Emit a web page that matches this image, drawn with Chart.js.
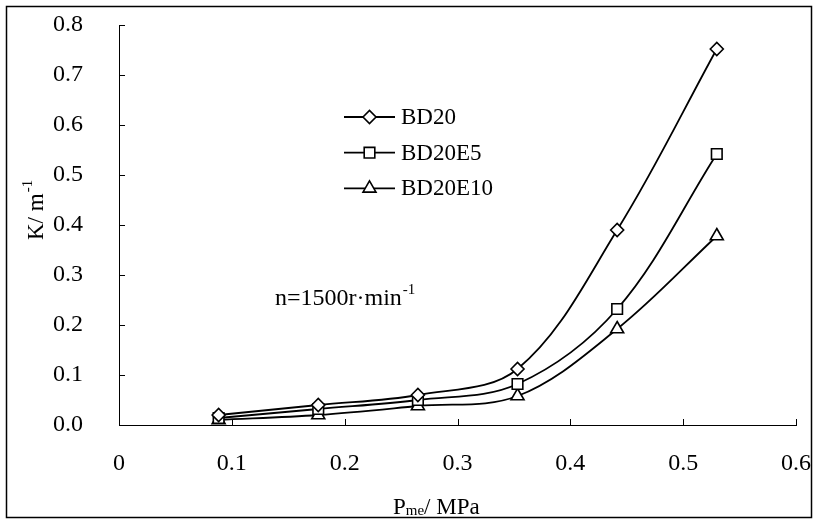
<!DOCTYPE html>
<html>
<head>
<meta charset="utf-8">
<script src="https://cdn.jsdelivr.net/npm/chart.js@4.4.0/dist/chart.umd.min.js"></script>
<style>
  html, body { margin: 0; padding: 0; background: #fff; }
  #wrap { width: 814px; height: 519px; }
</style>
</head>
<body>
<div id="wrap"><canvas id="c" width="814" height="519"></canvas></div>
<script>
// Brake mean effective pressure (MPa) at each measured load
const pressure = [0.0883, 0.1766, 0.2649, 0.3532, 0.4415, 0.5298];
// Smoke opacity coefficient K (1/m) for each fuel
const kBD20    = [0.020, 0.040, 0.060, 0.112, 0.390, 0.752];
const kBD20E5  = [0.014, 0.032, 0.050, 0.082, 0.232, 0.542];
const kBD20E10 = [0.010, 0.020, 0.038, 0.058, 0.192, 0.378];
const fuelNames = ['BD20', 'BD20E5', 'BD20E10'];
const markerStyles = ['rectRot', 'rect', 'triangle'];
const markerRadii = [6.5, 7.5, 7.5];
const xTickValues = [0, 0.1, 0.2, 0.3, 0.4, 0.5, 0.6];
const yTickValues = [0, 0.1, 0.2, 0.3, 0.4, 0.5, 0.6, 0.7, 0.8];

const SERIF = '"Liberation Serif", "Times New Roman", serif';
const seriesValues = [kBD20, kBD20E5, kBD20E10];
// plot box inside the 814x519 canvas
const PLOT = { left: 119, top: 25, right: 796, bottom: 425 };

const datasets = seriesValues.map((vals, i) => ({
  label: fuelNames[i],
  data: pressure.map((p, j) => ({ x: p, y: vals[j] })),
  borderColor: '#000',
  borderWidth: 1.8,
  tension: 0.35,
  pointStyle: markerStyles[i],
  pointRadius: markerRadii[i],
  pointHoverRadius: markerRadii[i],
  pointBorderColor: '#000',
  pointBackgroundColor: '#fff',
  pointBorderWidth: 1.6,
  fill: false
}));

function noOverhang(s) {
  s.paddingLeft = s.paddingRight = s.paddingTop = s.paddingBottom = 0;
}

// Inward tick marks, outer frame, legend, axis titles and the speed note
const decorations = {
  id: 'decorations',
  afterDraw(chart) {
    const ctx = chart.ctx;
    const xs = chart.scales.x, ys = chart.scales.y;
    const area = chart.chartArea;
    ctx.save();
    ctx.strokeStyle = '#000';
    ctx.lineWidth = 1;
    ctx.beginPath();
    xs.ticks.forEach(t => {
      const px = Math.round(xs.getPixelForValue(t.value)) + 0.5;
      ctx.moveTo(px, area.bottom);
      ctx.lineTo(px, area.bottom - 6);
    });
    ys.ticks.forEach(t => {
      const py = Math.round(ys.getPixelForValue(t.value)) + 0.5;
      ctx.moveTo(area.left, py);
      ctx.lineTo(area.left + 6, py);
    });
    ctx.stroke();

    // outer frame
    ctx.lineWidth = 1.5;
    ctx.strokeRect(6.5, 6.5, 805, 511);

    // legend
    ctx.fillStyle = '#000';
    ctx.font = '23px ' + SERIF;
    ctx.textBaseline = 'middle';
    ctx.textAlign = 'left';
    chart.data.datasets.forEach((ds, i) => {
      const y = 117 + i * 35.7;
      ctx.lineWidth = 1.8;
      ctx.beginPath();
      ctx.moveTo(344, y);
      ctx.lineTo(395, y);
      ctx.stroke();
      ctx.fillStyle = '#fff';
      ctx.lineWidth = ds.pointBorderWidth;
      Chart.helpers.drawPoint(ctx, {
        pointStyle: ds.pointStyle, radius: ds.pointRadius,
        borderWidth: ds.pointBorderWidth, rotation: 0
      }, 369.5, y);
      ctx.fillStyle = '#000';
      ctx.fillText(ds.label, 401, y + 1);
    });

    ctx.textBaseline = 'alphabetic';

    // speed note
    ctx.font = '24px ' + SERIF;
    const note = 'n=1500r\u00b7min';
    ctx.fillText(note, 275, 305);
    const nw = ctx.measureText(note).width;
    ctx.font = '15px ' + SERIF;
    ctx.fillText('-1', 275 + nw + 1, 294);

    // x axis title
    ctx.font = '23px ' + SERIF;
    ctx.fillText('P', 393, 514);
    let xw = 393 + ctx.measureText('P').width;
    ctx.font = '15px ' + SERIF;
    ctx.fillText('me', xw, 515);
    xw += ctx.measureText('me').width;
    ctx.font = '23px ' + SERIF;
    ctx.fillText('/ MPa', xw, 514);

    // y axis title
    ctx.translate(43, 240);
    ctx.rotate(-Math.PI / 2);
    ctx.font = '23px ' + SERIF;
    ctx.fillText('K/ m', 0, 0);
    const yw = ctx.measureText('K/ m').width;
    ctx.font = '15px ' + SERIF;
    ctx.fillText('-1', yw + 1, -11);
    ctx.restore();
  }
};

const chart = new Chart(document.getElementById('c'), {
  type: 'line',
  data: { datasets },
  options: {
    responsive: false,
    animation: false,
    devicePixelRatio: 1,
    layout: { padding: { left: 0, top: PLOT.top, right: 814 - PLOT.right, bottom: 0 } },
    plugins: { legend: { display: false }, tooltip: { enabled: false } },
    scales: {
      x: {
        type: 'linear', min: 0, max: 0.6,
        afterBuildTicks: s => { s.ticks = xTickValues.map(v => ({ value: v })); },
        afterFit: s => { s.height = 519 - PLOT.bottom; noOverhang(s); },
        grid: { display: false, drawTicks: false },
        border: { display: true, color: '#000', width: 1 },
        ticks: {
          color: '#000', padding: 24, maxRotation: 0, autoSkip: false,
          font: { family: SERIF, size: 24 },
          callback: v => (v === 0 ? '0' : v.toFixed(1))
        }
      },
      y: {
        type: 'linear', min: 0, max: 0.8,
        afterBuildTicks: s => { s.ticks = yTickValues.map(v => ({ value: v })); },
        afterFit: s => { s.width = PLOT.left; noOverhang(s); },
        grid: { display: false, drawTicks: false },
        border: { display: true, color: '#000', width: 1 },
        ticks: {
          color: '#000', padding: 36, autoSkip: false,
          font: { family: SERIF, size: 24 },
          callback: v => v.toFixed(1)
        }
      }
    }
  },
  plugins: [decorations]
});

// nudge the layout padding until the plot box sits where intended
for (let k = 0; k < 4; k++) {
  const a = chart.chartArea;
  const p = chart.options.layout.padding;
  const dTop = PLOT.top - a.top, dRight = a.right - PLOT.right;
  const dLeft = PLOT.left - a.left, dBottom = a.bottom - PLOT.bottom;
  if (Math.abs(dTop) + Math.abs(dRight) + Math.abs(dLeft) + Math.abs(dBottom) < 0.5) break;
  chart.options.layout.padding = {
    top: p.top + dTop, right: p.right + dRight,
    left: p.left + dLeft, bottom: p.bottom + dBottom
  };
  chart.update();
}
</script>
</body>
</html>
